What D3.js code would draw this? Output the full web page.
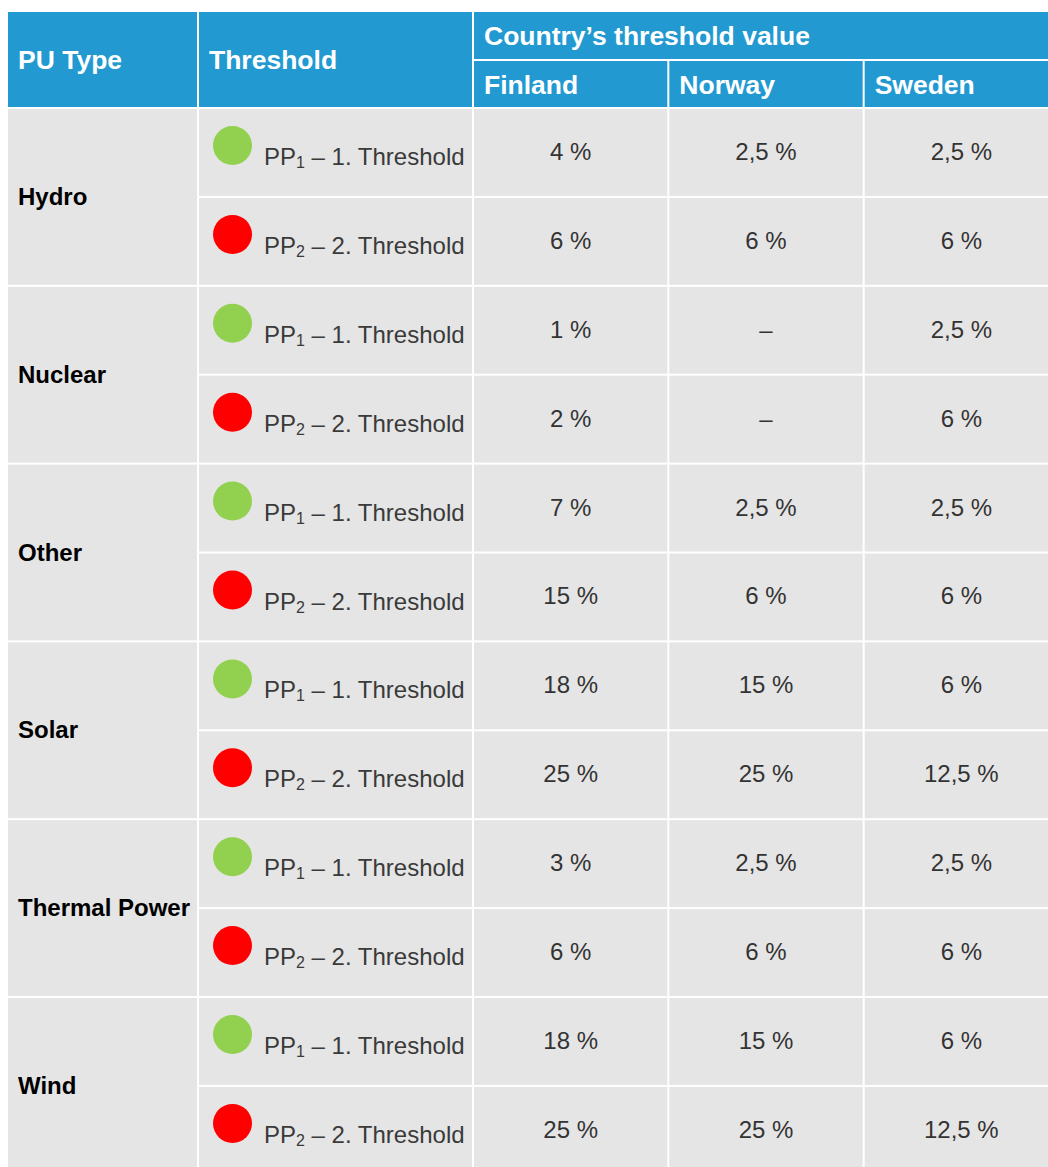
<!DOCTYPE html>
<html lang="en">
<head>
<meta charset="UTF-8">
<title>PU threshold values</title>
<script src="https://d3js.org/d3.v7.min.js"></script>
<style>
    body { margin: 0; background: #ffffff; }
    svg { display: block; font-family: "Liberation Sans", Arial, sans-serif; }
</style>
</head>
<body>
<svg id="table" width="1048" height="1167"></svg>
<script>
    // table content
    const puTypes = ["Hydro", "Nuclear", "Other", "Solar", "Thermal Power", "Wind"];
    const countries = ["Finland", "Norway", "Sweden"];
    const thresholdLevels = [1, 2];
    const headers = ["PU Type", "Threshold", "Country\u2019s threshold value"];

    // values in %, null = no threshold
    const finlandPP1 = [4, 1, 7, 18, 3, 18];
    const finlandPP2 = [6, 2, 15, 25, 6, 25];
    const norwayPP1 = [2.5, null, 2.5, 15, 2.5, 15];
    const norwayPP2 = [6, null, 6, 25, 6, 25];
    const swedenPP1 = [2.5, 2.5, 2.5, 6, 2.5, 6];
    const swedenPP2 = [6, 6, 6, 12.5, 6, 12.5];

    const values = {
        Finland: [finlandPP1, finlandPP2],
        Norway: [norwayPP1, norwayPP2],
        Sweden: [swedenPP1, swedenPP2]
    };

    // styles
    const blue = "#2299d1";
    const grey = "#e5e5e5";
    const dotColor = { 1: "#92d050", 2: "#ff0000" };

    const svg = d3.select("#table");

    // rows: one per PU type and threshold level
    const rows = [];
    puTypes.forEach((pu, i) => thresholdLevels.forEach(lvl => rows.push({ pu: pu, i: i, lvl: lvl })));

    const bodyTop = 109, rowStep = 88.9;
    const yRow = d3.scaleBand().domain(d3.range(rows.length)).range([bodyTop, bodyTop + rows.length * rowStep]);
    const yGroup = d3.scaleBand().domain(puTypes).range(yRow.range());
    const xCountry = d3.scaleBand().domain(countries).range([474, 1058]).paddingInner(2 / 194.7);

    const col1 = { x: 8, w: 189 }, col2 = { x: 199, w: 273 };
    const rowH = yRow.step() - 2;

    // header
    const head = svg.append("g");
    head.append("rect").attr("x", col1.x).attr("y", 12).attr("width", col1.w).attr("height", 95).attr("fill", blue);
    head.append("rect").attr("x", col2.x).attr("y", 12).attr("width", col2.w).attr("height", 95).attr("fill", blue);
    head.append("rect").attr("x", 474).attr("y", 12).attr("width", 1048 - 474).attr("height", 47).attr("fill", blue);
    head.selectAll("rect.country")
        .data(countries).enter().append("rect")
        .attr("class", "country")
        .attr("x", d => xCountry(d))
        .attr("y", 61)
        .attr("width", xCountry.bandwidth())
        .attr("height", 46)
        .attr("fill", blue);

    const headText = [
        { t: headers[0], x: 18, y: 69 },
        { t: headers[1], x: 209, y: 69 },
        { t: headers[2], x: 484, y: 44.5 }
    ].concat(countries.map(c => ({ t: c, x: xCountry(c) + 10, y: 93.5 })));

    head.selectAll("text")
        .data(headText).enter().append("text")
        .attr("x", d => d.x)
        .attr("y", d => d.y)
        .attr("fill", "#ffffff")
        .attr("font-weight", "bold")
        .attr("font-size", 26.5)
        .text(d => d.t);

    // PU type column (merged cells)
    const groups = svg.append("g");
    groups.selectAll("rect")
        .data(puTypes).enter().append("rect")
        .attr("x", col1.x)
        .attr("y", d => yGroup(d))
        .attr("width", col1.w)
        .attr("height", yGroup.step() - 2)
        .attr("fill", grey);
    groups.selectAll("text")
        .data(puTypes).enter().append("text")
        .attr("x", 18)
        .attr("y", d => yGroup(d) + (yGroup.step() - 2) / 2 + 8)
        .attr("font-size", 24)
        .attr("font-weight", "bold")
        .attr("fill", "#000000")
        .text(d => d);

    // threshold column
    const thr = svg.append("g").selectAll("g")
        .data(rows).enter().append("g")
        .attr("transform", (d, k) => `translate(0,${yRow(k)})`);
    thr.append("rect")
        .attr("x", col2.x).attr("y", 0)
        .attr("width", col2.w).attr("height", rowH)
        .attr("fill", grey);
    thr.append("circle")
        .attr("cx", 232.5).attr("cy", 36.5).attr("r", 19.5)
        .attr("fill", d => dotColor[d.lvl]);
    const lbl = thr.append("text")
        .attr("x", 264).attr("y", 56)
        .attr("font-size", 24)
        .attr("fill", "#3a3a3a");
    lbl.append("tspan").text("PP");
    lbl.append("tspan").attr("font-size", 16).attr("dy", 3).text(d => d.lvl);
    lbl.append("tspan").attr("dy", -3).text(d => `\u00a0\u2013 ${d.lvl}. Threshold`);

    // country values
    const fmt = v => v == null ? "\u2013" : String(v).replace(".", ",") + " %";
    const cells = [];
    rows.forEach((r, k) => countries.forEach(c => cells.push({ k: k, c: c, v: values[c][r.lvl - 1][r.i] })));

    const val = svg.append("g").selectAll("g")
        .data(cells).enter().append("g")
        .attr("transform", d => `translate(${xCountry(d.c)},${yRow(d.k)})`);
    val.append("rect")
        .attr("width", xCountry.bandwidth())
        .attr("height", rowH)
        .attr("fill", grey);
    val.append("text")
        .attr("x", xCountry.bandwidth() / 2)
        .attr("y", rowH / 2 + 7.5)
        .attr("text-anchor", "middle")
        .attr("font-size", 24)
        .attr("fill", "#333333")
        .text(d => fmt(d.v));
</script>
</body>
</html>
